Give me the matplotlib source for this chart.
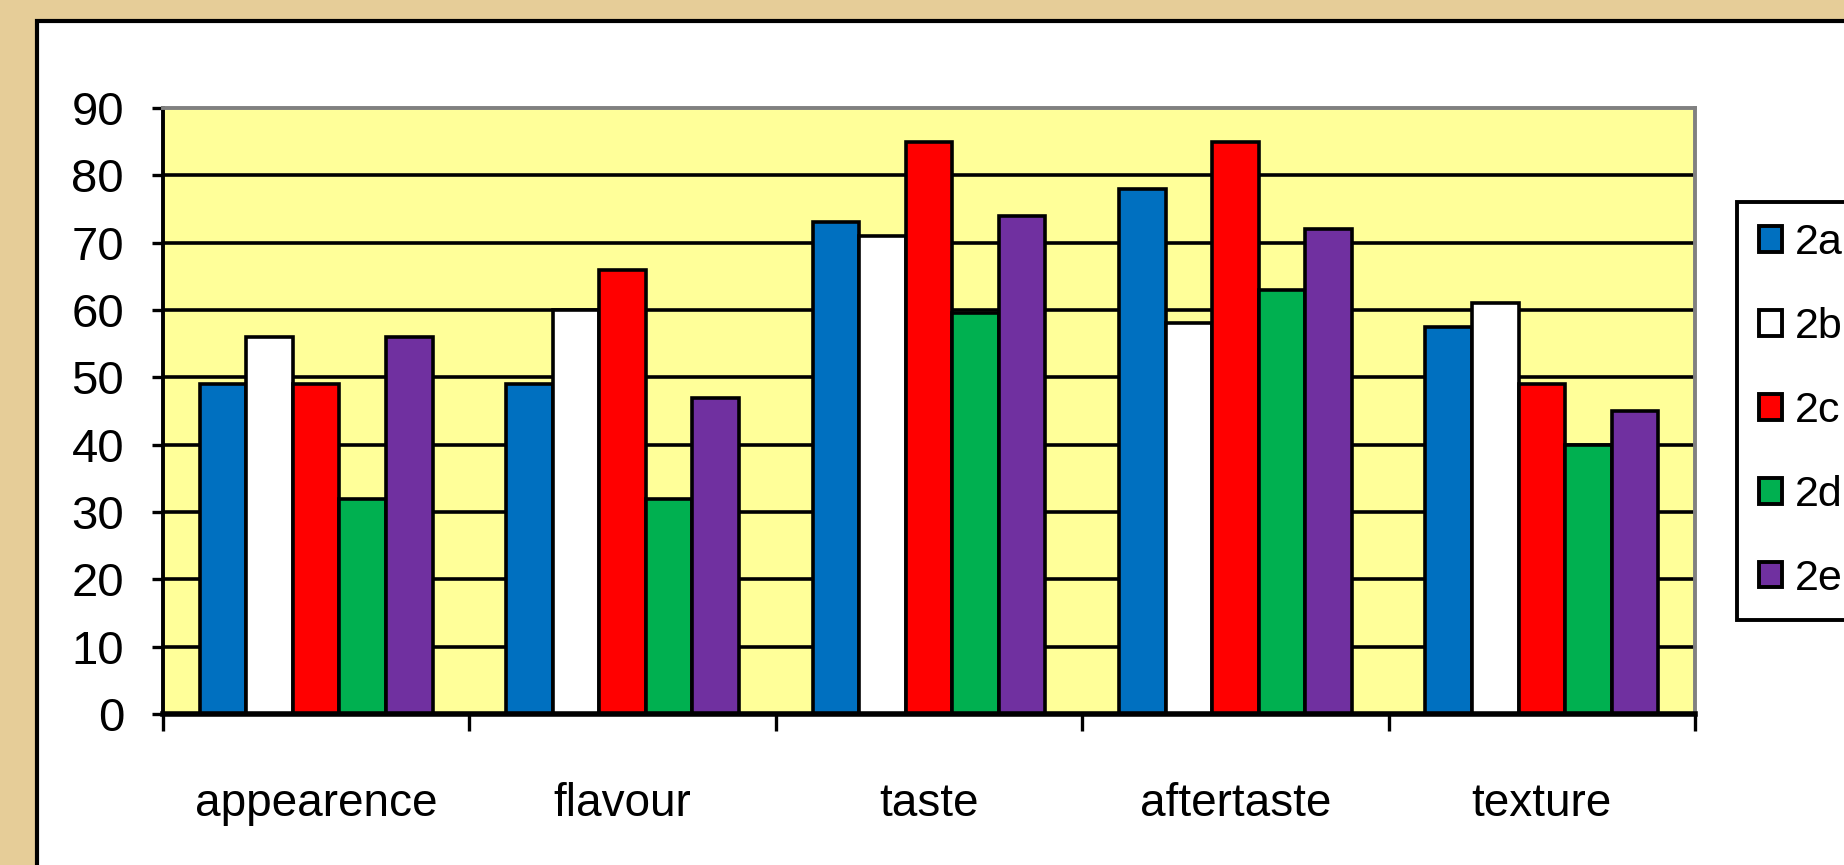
import numpy as np
import matplotlib
matplotlib.use("Agg")
import matplotlib.pyplot as plt
from matplotlib.patches import Rectangle

plt.rcParams['font.family'] = ['Liberation Sans', 'DejaVu Sans']

# data
categories = ['appearence', 'flavour', 'taste', 'aftertaste', 'texture']
series = ['2a', '2b', '2c', '2d', '2e']
v2a = [49, 49, 73, 78, 57.5]
v2b = [56, 60, 71, 58, 61]
v2c = [49, 66, 85, 85, 49]
v2d = [32, 32, 59.5, 63, 40]
v2e = [56, 47, 74, 72, 45]
values = [v2a, v2b, v2c, v2d, v2e]
colors = ['#0070C0', '#FFFFFF', '#FF0000', '#00B050', '#7030A0']

fig = plt.figure(figsize=(18.44, 8.65), dpi=100, facecolor='#E6CD98')

# white chart area with black frame (cut by right and bottom edges)
fig.patches.append(Rectangle((0.0201, -0.1), 1.2, 0.9757 + 0.1, transform=fig.transFigure,
                             facecolor='white', edgecolor='black', linewidth=3, zorder=-10))

ax = fig.add_axes([0.0884, 0.1746, 0.8308, 0.7005])
ax.set_facecolor('#FFFF99')

x = np.arange(len(categories))
w = 0.152
for i, (name, vals, c) in enumerate(zip(series, values, colors)):
    ax.bar(x + (i - 2) * w, vals, width=w, color=c, edgecolor='black',
           linewidth=2.6, label=name, zorder=3)

ax.set_xlim(-0.5, 4.5)
ax.set_ylim(0, 90)
ax.set_yticks(np.arange(0, 91, 10))
for yv in range(10, 90, 10):
    ax.axhline(yv, color='black', linewidth=2.6, zorder=1)

ax.set_xticks(np.arange(-0.5, 5, 1))
ax.set_xticklabels([])
ax.set_xticks(x, minor=True)
ax.set_xticklabels(categories, minor=True, fontsize=33)
ax.tick_params(axis='x', which='major', direction='out', length=12, width=2.4, color='black')
ax.tick_params(axis='x', which='minor', length=0, pad=49)
ax.tick_params(axis='y', direction='out', length=8, width=2.4, labelsize=34, pad=20)

for s in ['top', 'right']:
    ax.spines[s].set_color('#808080')
    ax.spines[s].set_linewidth(2.8)
ax.spines['left'].set_color('black')
ax.spines['left'].set_linewidth(2.8)
ax.spines['bottom'].set_color('black')
ax.spines['bottom'].set_linewidth(4)
for s in ax.spines.values():
    s.set_zorder(4)

leg = fig.legend(loc='upper left', bbox_to_anchor=(0.942, 0.767), bbox_transform=fig.transFigure,
                 fontsize=31, frameon=True, fancybox=False, edgecolor='black', framealpha=1,
                 borderaxespad=0, borderpad=0.5, handlelength=0.55, handleheight=0.55,
                 handletextpad=0.3, labelspacing=1.02)
leg.get_frame().set_linewidth(2.8)
for p in leg.get_patches():
    p.set_linewidth(2.8)

fig.savefig('out.png', dpi=100, facecolor=fig.get_facecolor())
